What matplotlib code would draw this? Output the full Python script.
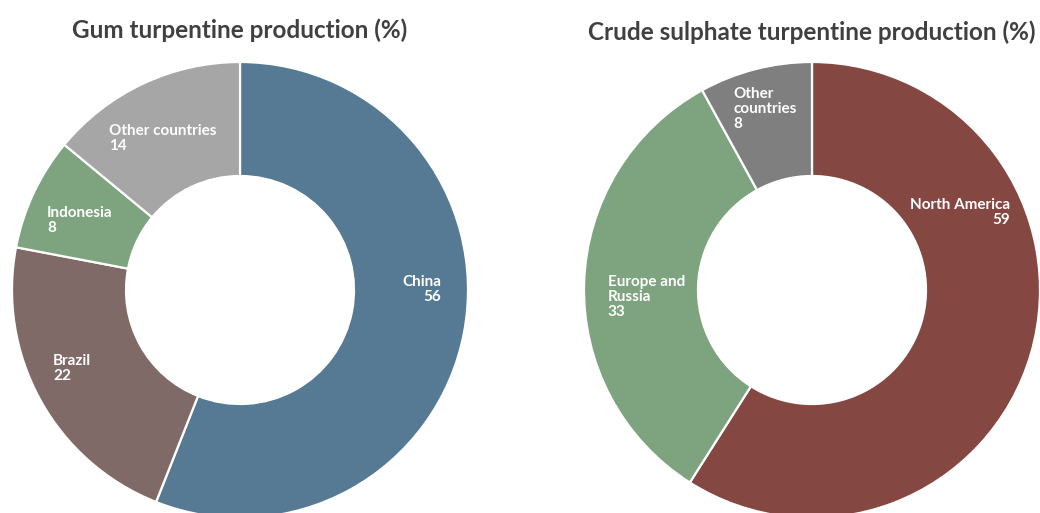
import matplotlib
matplotlib.use("Agg")
import matplotlib.pyplot as plt

# Data
gum_labels = ["China", "Brazil", "Indonesia", "Other countries"]
gum_values = [56, 22, 8, 14]
gum_colors = ["#567A93", "#7F6A67", "#7EA37F", "#A6A6A6"]

cst_labels = ["North America", "Europe and\nRussia", "Other\ncountries"]
cst_values = [59, 33, 8]
cst_colors = ["#854741", "#7EA37F", "#7F7F7F"]

# Label anchor positions (in pie radius units) and alignments
gum_label_pos = [(0.882, 0.003, "right"), (-0.82, -0.343, "left"),
                 (-0.846, 0.306, "left"), (-0.575, 0.665, "left")]
cst_label_pos = [(0.868, 0.341, "right"), (-0.895, -0.032, "left"),
                 (-0.346, 0.793, "left")]

W, H = 1040, 513
fig = plt.figure(figsize=(W / 100, H / 100), dpi=100)
fig.patch.set_facecolor("white")

FONT = ["Lato", "DejaVu Sans"]
R = 228


def donut(cx, cy, labels, values, colors, positions, title, ty):
    ax = fig.add_axes([(cx - R) / W, (H - cy - R) / H, 2 * R / W, 2 * R / H])
    ax.pie(values, colors=colors, startangle=90, counterclock=False,
           radius=1, wedgeprops=dict(width=0.5, edgecolor="white", linewidth=1.6))
    ax.set_xlim(-1, 1)
    ax.set_ylim(-1, 1)
    ax.set_aspect("equal")
    ax.axis("off")
    for lab, val, (x, y, ha) in zip(labels, values, positions):
        ax.text(x, y, f"{lab}\n{val}", ha=ha, va="center", color="white",
                fontsize=11, fontweight="bold", family=FONT, linespacing=1.1,
                multialignment=ha)
    fig.text(cx / W, 1 - ty / H, title, ha="center", va="center",
             fontsize=17.5, fontweight="bold", color="#404040", family=FONT)


donut(240, 290, gum_labels, gum_values, gum_colors, gum_label_pos,
      "Gum turpentine production (%)", 30)
donut(812, 290, cst_labels, cst_values, cst_colors, cst_label_pos,
      "Crude sulphate turpentine production (%)", 32)

fig.savefig("out.png", dpi=100, facecolor="white")
